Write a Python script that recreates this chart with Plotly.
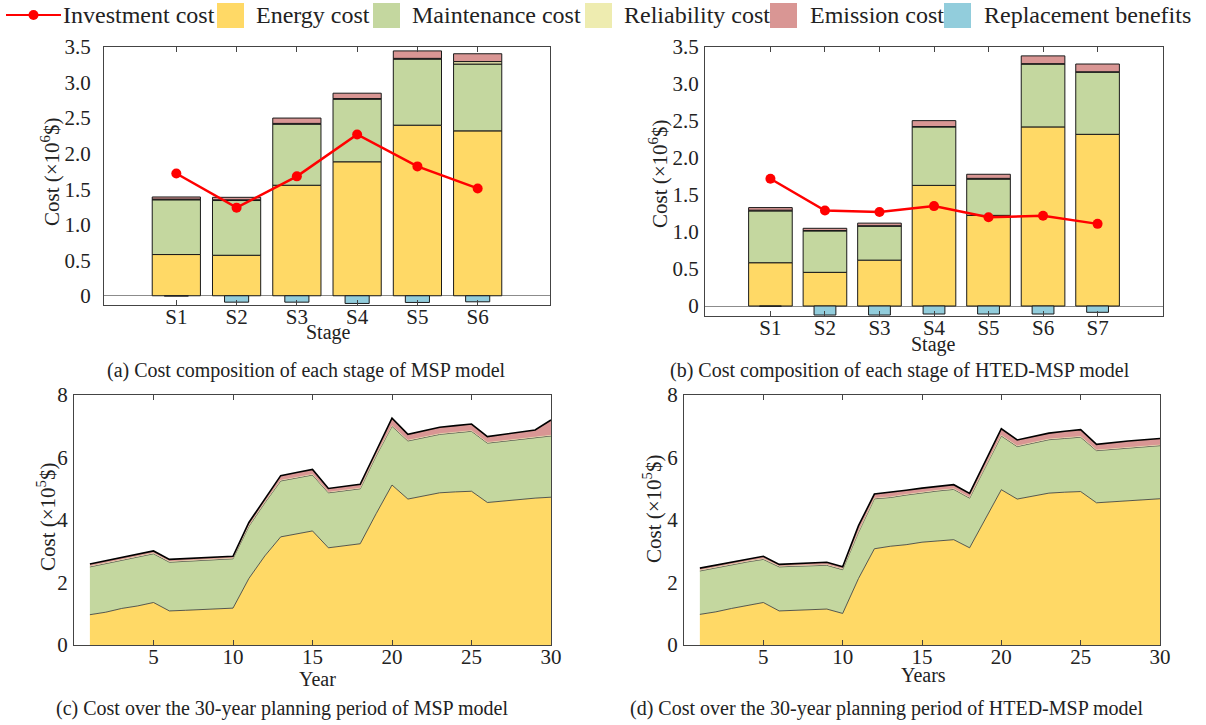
import plotly.graph_objects as go

# ---------------- data ----------------
stages_a = ["S1", "S2", "S3", "S4", "S5", "S6"]
invest_a = [1.72, 1.24, 1.68, 2.27, 1.82, 1.51]
energy_a = [0.58, 0.57, 1.555, 1.885, 2.40, 2.32]
maint_a = [0.77, 0.77, 0.86, 0.88, 0.93, 0.94]
relia_a = [0.01, 0.01, 0.01, 0.01, 0.01, 0.035]
emis_a = [0.03, 0.035, 0.075, 0.075, 0.105, 0.11]
repl_a = [-0.004, -0.09, -0.09, -0.108, -0.094, -0.085]

stages_b = ["S1", "S2", "S3", "S4", "S5", "S6", "S7"]
invest_b = [1.72, 1.29, 1.27, 1.35, 1.20, 1.22, 1.11]
energy_b = [0.585, 0.455, 0.62, 1.63, 1.225, 2.42, 2.32]
maint_b = [0.70, 0.56, 0.46, 0.79, 0.49, 0.85, 0.84]
relia_b = [0.01, 0.005, 0.005, 0.005, 0.01, 0.005, 0.005]
emis_b = [0.035, 0.03, 0.035, 0.08, 0.055, 0.105, 0.105]
repl_b = [-0.004, -0.122, -0.122, -0.108, -0.108, -0.108, -0.085]

years = list(range(1, 31))
energy_c = [0.97, 1.05, 1.17, 1.25, 1.36, 1.09, 1.11, 1.13, 1.15, 1.18,
            2.13, 2.85, 3.46, 3.55, 3.65, 3.11, 3.18, 3.24, 4.20, 5.12,
            4.67, 4.77, 4.87, 4.90, 4.92, 4.56, 4.61, 4.66, 4.70, 4.73]
maint_c = [1.53, 1.56, 1.55, 1.57, 1.56, 1.56, 1.57, 1.58, 1.58, 1.58,
           1.67, 1.70, 1.79, 1.80, 1.79, 1.76, 1.76, 1.76, 1.85, 1.88,
           1.86, 1.87, 1.87, 1.89, 1.92, 1.90, 1.91, 1.92, 1.93, 1.96]
relia_c = [0.02] * 30
emis_c = [0.07, 0.07, 0.07, 0.07, 0.07, 0.07, 0.07, 0.07, 0.07, 0.06,
          0.10, 0.11, 0.15, 0.15, 0.16, 0.12, 0.12, 0.12, 0.13, 0.24,
          0.19, 0.20, 0.21, 0.21, 0.21, 0.19, 0.20, 0.20, 0.23, 0.49]

energy_d = [0.98, 1.06, 1.17, 1.26, 1.36, 1.09, 1.11, 1.13, 1.15, 1.01,
            2.13, 3.08, 3.16, 3.21, 3.29, 3.33, 3.37, 3.11, 4.05, 4.97,
            4.67, 4.77, 4.86, 4.89, 4.91, 4.55, 4.58, 4.62, 4.65, 4.68]
maint_d = [1.39, 1.41, 1.40, 1.40, 1.38, 1.41, 1.41, 1.40, 1.40, 1.40,
           1.48, 1.60, 1.56, 1.59, 1.58, 1.60, 1.61, 1.59, 1.65, 1.72,
           1.68, 1.69, 1.71, 1.72, 1.74, 1.67, 1.68, 1.68, 1.69, 1.70]
relia_d = [0.02] * 30
emis_d = [0.07, 0.07, 0.07, 0.07, 0.08, 0.06, 0.07, 0.08, 0.08, 0.07,
          0.19, 0.13, 0.14, 0.13, 0.13, 0.13, 0.13, 0.13, 0.18, 0.21,
          0.19, 0.19, 0.19, 0.21, 0.22, 0.18, 0.20, 0.21, 0.21, 0.21]

bar_ticks = [0, 0.5, 1.0, 1.5, 2.0, 2.5, 3.0, 3.5]
bar_ticktext = ["0", "0.5", "1.0", "1.5", "2.0", "2.5", "3.0", "3.5"]
year_ticks = [5, 10, 15, 20, 25, 30]
area_yticks = [0, 2, 4, 6, 8]

names = ["Investment cost", "Energy cost", "Maintenance cost",
         "Reliability cost", "Emission cost", "Replacement benefits"]
captions = ["(a) Cost composition of each stage of MSP model",
            "(b) Cost composition of each stage of HTED-MSP model",
            "(c) Cost over the 30-year planning period of MSP model",
            "(d) Cost over the 30-year planning period of HTED-MSP model"]

# ---------------- style ----------------
C_RED = "#FF0000"
C_EN = "#FFD966"
C_MA = "#C4D79F"
C_RE = "#EEECB0"
C_EM = "#D99694"
C_RP = "#92CDDC"
FONT = "Liberation Serif"
TXT = "#222222"
W, H = 1206, 725

fig = go.Figure()


def add_bars(stages, invest, energy, maint, relia, emis, repl, xa, ya):
    outline = dict(color="#1a1a1a", width=1)
    for vals, col, nm in [(energy, C_EN, names[1]), (maint, C_MA, names[2]),
                          (relia, C_RE, names[3]), (emis, C_EM, names[4])]:
        fig.add_trace(go.Bar(x=stages, y=vals, width=0.8, name=nm,
                             marker=dict(color=col, line=outline),
                             xaxis=xa, yaxis=ya, showlegend=False))
    fig.add_trace(go.Bar(x=stages, y=repl, width=0.4, name=names[5],
                         marker=dict(color=C_RP, line=outline),
                         xaxis=xa, yaxis=ya, showlegend=False))
    fig.add_trace(go.Scatter(x=stages, y=invest, mode="lines+markers", name=names[0],
                             line=dict(color=C_RED, width=2.5),
                             marker=dict(color=C_RED, size=10),
                             xaxis=xa, yaxis=ya, showlegend=False))


def add_areas(energy, maint, relia, emis, xa, ya, grp):
    specs = [(energy, C_EN, dict(color="#333333", width=0.8), names[1]),
             (maint, C_MA, dict(color="#333333", width=0.8), names[2]),
             (relia, C_RE, dict(color=C_RE, width=0.5), names[3]),
             (emis, C_EM, dict(color="#000000", width=1.6), names[4])]
    for vals, col, ln, nm in specs:
        fig.add_trace(go.Scatter(x=years, y=vals, mode="lines", stackgroup=grp, name=nm,
                                 fillcolor=col, line=ln, xaxis=xa, yaxis=ya,
                                 showlegend=False))


add_bars(stages_a, invest_a, energy_a, maint_a, relia_a, emis_a, repl_a, "x", "y")
add_bars(stages_b, invest_b, energy_b, maint_b, relia_b, emis_b, repl_b, "x2", "y2")
add_areas(energy_c, maint_c, relia_c, emis_c, "x3", "y3", "c")
add_areas(energy_d, maint_d, relia_d, emis_d, "x4", "y4", "d")


def px_x(v):
    return v / W


def px_y(v):
    return 1 - v / H


tickfont = dict(family=FONT, size=21, color=TXT)
common_x = dict(showline=True, linecolor="#444444", linewidth=1.2, mirror="ticks",
                ticks="inside", ticklen=5, tickcolor="#444444", showgrid=False,
                zeroline=False, tickfont=tickfont, automargin=False, ticklabelstandoff=-7)
common_y = dict(showline=True, linecolor="#444444", linewidth=1.2, mirror=True,
                ticks="", showgrid=False, tickfont=tickfont, automargin=False)

# panel pixel boxes (left, right, top, bottom)
box_a = (104, 550, 47, 305)
box_b = (705, 1163, 47, 316)
box_c = (74, 551, 395, 645)
box_d = (684, 1160, 395, 645)


def dom(box):
    l, r, t, b = box
    return [px_x(l), px_x(r)], [px_y(b), px_y(t)]


da = dom(box_a); db = dom(box_b); dc = dom(box_c); dd = dom(box_d)

fig.update_layout(
    width=W, height=H, margin=dict(l=0, r=0, t=0, b=0, autoexpand=False),
    paper_bgcolor="white", plot_bgcolor="white",
    barmode="relative", showlegend=False,
    font=dict(family=FONT, color=TXT),
    xaxis=dict(common_x, domain=da[0], anchor="y", type="category",
               range=[-1.2, len(stages_a) + 0.2]),
    yaxis=dict(common_y, domain=da[1], anchor="x", range=[-0.13, 3.5],
               tickvals=bar_ticks, ticktext=bar_ticktext, zeroline=True,
               zerolinecolor="#8c8c8c", zerolinewidth=1.2, ticklabelstandoff=8),
    xaxis2=dict(common_x, domain=db[0], anchor="y2", type="category",
                range=[-1.2, len(stages_b) + 0.2]),
    yaxis2=dict(common_y, domain=db[1], anchor="x2", range=[-0.135, 3.5],
                tickvals=bar_ticks, ticktext=bar_ticktext, zeroline=True,
                zerolinecolor="#8c8c8c", zerolinewidth=1.2, ticklabelstandoff=1),
    xaxis3=dict(common_x, domain=dc[0], anchor="y3", range=[0, 30], tickvals=year_ticks),
    yaxis3=dict(common_y, domain=dc[1], anchor="x3", range=[0, 8], tickvals=area_yticks,
                zeroline=False, ticklabelstandoff=1),
    xaxis4=dict(common_x, domain=dd[0], anchor="y4", range=[0, 30], tickvals=year_ticks),
    yaxis4=dict(common_y, domain=dd[1], anchor="x4", range=[0, 8], tickvals=area_yticks,
                zeroline=False, ticklabelstandoff=1),
)

anns = []
shapes = []


def txt(x, y, s, size=20, angle=0, xanchor="center"):
    anns.append(dict(x=px_x(x), y=px_y(y), xref="paper", yref="paper", text=s,
                     showarrow=False, textangle=angle, xanchor=xanchor, yanchor="middle",
                     font=dict(family=FONT, size=size, color=TXT)))


ytitle6 = "Cost (\u00d710<sup>6</sup>$)"
ytitle5 = "Cost (\u00d710<sup>5</sup>$)"
txt(50, 172, ytitle6, size=21, angle=-90)
txt(658, 174, ytitle6, size=21, angle=-90)
txt(46, 517, ytitle5, size=21, angle=-90)
txt(652, 509, ytitle5, size=21, angle=-90)
txt(328, 333, "Stage")
txt(933, 344, "Stage")
txt(317, 679, "Year")
txt(923, 675, "Years")
txt(306, 371, captions[0])
txt(900, 371, captions[1])
txt(282, 708, captions[2])
txt(886, 708, captions[3])

# legend (drawn in paper space)
LY = 15
shapes.append(dict(type="line", xref="paper", yref="paper", x0=px_x(6), x1=px_x(61),
                   y0=px_y(LY), y1=px_y(LY), line=dict(color=C_RED, width=2)))
shapes.append(dict(type="circle", xref="paper", yref="paper", x0=px_x(28.5), x1=px_x(38.5),
                   y0=px_y(LY + 5), y1=px_y(LY - 5), fillcolor=C_RED, line=dict(width=0)))
txt(61, LY, names[0], size=24, xanchor="left")
leg_boxes = [(217, C_EN, 254, names[1]), (373, C_MA, 410, names[2]),
             (585, C_RE, 622, names[3]), (770, C_EM, 808, names[4]),
             (944, C_RP, 982, names[5])]
for bx, col, tx, nm in leg_boxes:
    shapes.append(dict(type="rect", xref="paper", yref="paper", x0=px_x(bx), x1=px_x(bx + 27),
                       y0=px_y(28), y1=px_y(3), fillcolor=col, line=dict(width=0)))
    txt(tx, LY, nm, size=24, xanchor="left")

fig.update_layout(annotations=anns, shapes=shapes)
fig.write_html("out.html", config={"displayModeBar": False},
               post_script="document.body.style.margin='0';")
